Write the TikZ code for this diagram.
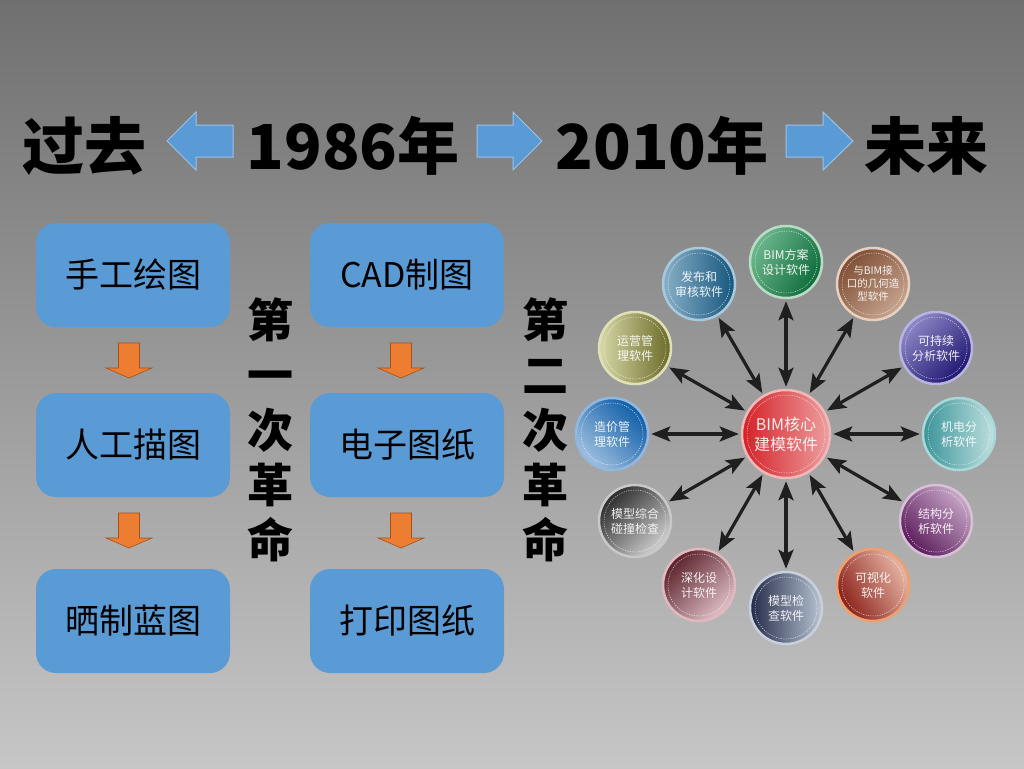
\documentclass[tikz,border=0pt]{standalone}
\usepackage{fontspec}
\setmainfont{Noto Sans CJK SC}
\usetikzlibrary{arrows.meta,shapes.geometric}
\definecolor{boxblue}{HTML}{5B9BD5}
\definecolor{arrblue}{HTML}{5B9BD5}
\definecolor{arredge}{HTML}{9CC2E8}
\definecolor{orangef}{HTML}{ED7D31}
\definecolor{oranged}{HTML}{A0521C}
\definecolor{bgtop}{HTML}{707070}
\definecolor{bgbot}{HTML}{C6C6C6}
\definecolor{lcore}{HTML}{EDA0A0}\definecolor{dcore}{HTML}{D42027}\definecolor{rcore}{HTML}{F2B8B8}
\definecolor{l90}{HTML}{6FB88F}\definecolor{d90}{HTML}{0D6B3A}\definecolor{r90}{HTML}{B8DCC4}
\definecolor{l60}{HTML}{C8A590}\definecolor{d60}{HTML}{7E4E34}\definecolor{r60}{HTML}{E8D0C0}
\definecolor{l30}{HTML}{8E88C8}\definecolor{d30}{HTML}{1E1670}\definecolor{r30}{HTML}{B8B4E0}
\definecolor{l0}{HTML}{C0E0E0}\definecolor{d0}{HTML}{3A9498}\definecolor{r0}{HTML}{A8D8D8}
\definecolor{lm30}{HTML}{C8A8C8}\definecolor{dm30}{HTML}{5A1A5A}\definecolor{rm30}{HTML}{D8C0D8}
\definecolor{lm60}{HTML}{E8B8A8}\definecolor{dm60}{HTML}{8A2018}\definecolor{rm60}{HTML}{F0A070}
\definecolor{lm90}{HTML}{B8C4D4}\definecolor{dm90}{HTML}{242A48}\definecolor{rm90}{HTML}{C8D0DC}
\definecolor{lm120}{HTML}{E0C0C8}\definecolor{dm120}{HTML}{5A2028}\definecolor{rm120}{HTML}{E0B8C0}
\definecolor{lm150}{HTML}{D0D0D0}\definecolor{dm150}{HTML}{2A2A2A}\definecolor{rm150}{HTML}{C8C8C8}
\definecolor{l180}{HTML}{A0C0E0}\definecolor{d180}{HTML}{0D5CA8}\definecolor{r180}{HTML}{90B8E0}
\definecolor{l150}{HTML}{D8D8A8}\definecolor{d150}{HTML}{6A6A28}\definecolor{r150}{HTML}{E0E0B8}
\definecolor{l120}{HTML}{88B0C8}\definecolor{d120}{HTML}{15557C}\definecolor{r120}{HTML}{A8C8DC}
\tikzset{
  titletxt/.style={font=\bfseries\fontsize{62}{70}\selectfont, inner sep=0pt, text=black},
  stagebox/.style={rounded corners=20pt, fill=boxblue, minimum width=194pt, minimum height=104pt, inner sep=0pt, font=\fontsize{34}{40}\selectfont, text=black},
  revtxt/.style={font=\bfseries\fontsize{46}{55}\selectfont, align=center, inner sep=0pt, text=black},
  blockarrow/.style={fill=arrblue, draw=arredge, line width=1pt},
  downarrow/.style={fill=orangef, draw=oranged, line width=0.6pt},
  orb/.style n args={4}{circle, minimum size=72pt, inner sep=0pt, top color=#1, bottom color=#2, shading angle=#3, draw=#4, line width=2.5pt, text=white, text opacity=0.9, font=\fontsize{12}{15}\selectfont, align=center},
  innerdash/.style={draw=white, draw opacity=0.75, line width=0.5pt, dash pattern=on 1.2pt off 1.2pt},
  tipb/.tip={Stealth[length=19pt,width=15pt,inset=4pt]},
  biarrow/.style={line width=3.2pt, draw=black!88, tipb-tipb, shorten >=2pt, shorten <=2pt}
}
\begin{document}
\begin{tikzpicture}[x=1pt,y=-1pt]
\useasboundingbox (0,0) rectangle (1024,768);
\shade[top color=bgtop, bottom color=bgbot] (0,0) rectangle (1024,768);

% title row
\node[titletxt] (past) at (84,146) {过去};
\node[titletxt] (y1986) at (353,146) {1986年};
\node[titletxt] (y2010) at (662,146) {2010年};
\node[titletxt] (future) at (926,146) {未来};
\draw[blockarrow] (167,141) -- (196,112) -- (196,125) -- (233,125) -- (233,157) -- (196,157) -- (196,170) -- cycle;
\draw[blockarrow] (477,125) -- (513,125) -- (513,112) -- (542,141) -- (513,170) -- (513,157) -- (477,157) -- cycle;
\draw[blockarrow] (786,125) -- (823,125) -- (823,112) -- (853,141) -- (823,170) -- (823,157) -- (786,157) -- cycle;

% stage boxes
\node[stagebox] (b1) at (133,275) {手工绘图};
\node[stagebox] (b2) at (133,445) {人工描图};
\node[stagebox] (b3) at (133,621) {晒制蓝图};
\node[stagebox] (c1) at (407,275) {CAD制图};
\node[stagebox] (c2) at (407,445) {电子图纸};
\node[stagebox] (c3) at (407,621) {打印图纸};

% orange down arrows
\foreach \cx/\ty in {129/343, 129/513, 401/343, 401/513}{
  \draw[downarrow] (\cx-10.5,\ty) -- (\cx+10.5,\ty) -- (\cx+10.5,\ty+25) -- (\cx+23,\ty+25) -- (\cx,\ty+35) -- (\cx-23,\ty+25) -- (\cx-10.5,\ty+25) -- cycle;
}

% revolutions
\node[revtxt] (rev1) at (270,430) {第\\一\\次\\革\\命};
\node[revtxt] (rev2) at (545,430) {第\\二\\次\\革\\命};

% BIM circles
\node[orb={lcore}{dcore}{-90}{rcore}, minimum size=88pt, font=\fontsize{16}{20}\selectfont] (core) at (786,434) {BIM核心\\建模软件};
\node[orb={l90}{d90}{60}{r90}] (o90) at (786,262) {BIM方案\\设计软件};
\node[orb={l60}{d60}{-135}{r60}, font=\fontsize{10.5}{13}\selectfont] (o60) at (873,284) {与BIM接\\口的几何造\\型软件};
\node[orb={l30}{d30}{45}{r30}] (o30) at (936,348) {可持续\\分析软件};
\node[orb={l0}{d0}{-90}{r0}] (o0) at (959,434) {机电分\\析软件};
\node[orb={lm30}{dm30}{-45}{rm30}] (om30) at (936,521) {结构分\\析软件};
\node[orb={lm60}{dm60}{-60}{rm60}] (om60) at (873,585) {可视化\\软件};
\node[orb={lm90}{dm90}{-90}{rm90}] (om90) at (786,608) {模型检\\查软件};
\node[orb={lm120}{dm120}{-135}{rm120}] (om120) at (699,585) {深化设\\计软件};
\node[orb={lm150}{dm150}{-135}{rm150}] (om150) at (635,521) {模型综合\\碰撞检查};
\node[orb={l180}{d180}{135}{r180}] (o180) at (612,434) {造价管\\理软件};
\node[orb={l150}{d150}{90}{r150}] (o150) at (635,348) {运营管\\理软件};
\node[orb={l120}{d120}{90}{r120}] (o120) at (699,284) {发布和\\审核软件};

\draw[innerdash] (core.center) circle (39);
\foreach \n in {o90,o60,o30,o0,om30,om60,om90,om120,om150,o180,o150,o120}{
  \draw[innerdash] (\n.center) circle (31);
  \draw[biarrow] (core) -- (\n);
}
\end{tikzpicture}
\end{document}
